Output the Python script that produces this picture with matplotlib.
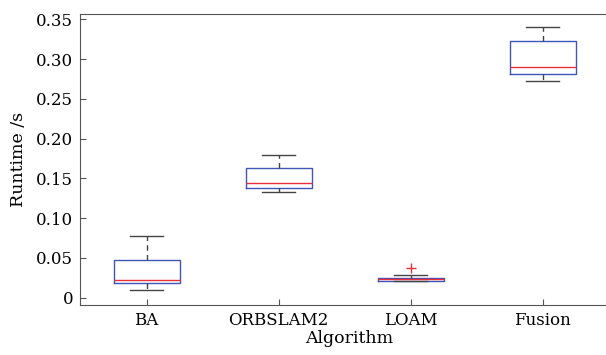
import matplotlib
matplotlib.use('Agg')
import matplotlib.pyplot as plt

plt.rcParams['font.family'] = ['DejaVu Serif']

algorithms = ['BA', 'ORBSLAM2', 'LOAM', 'Fusion']
whislo = [0.0097, 0.1332, 0.0205, 0.2722]
q1 = [0.0181, 0.1382, 0.0214, 0.2814]
med = [0.0219, 0.1441, 0.0235, 0.2902]
q3 = [0.0477, 0.1633, 0.0251, 0.3229]
whishi = [0.0771, 0.1789, 0.0281, 0.3405]
fliers = [[], [], [0.0369], []]

stats = []
for i, name in enumerate(algorithms):
    stats.append({'label': name, 'whislo': whislo[i], 'q1': q1[i], 'med': med[i],
                  'q3': q3[i], 'whishi': whishi[i], 'fliers': fliers[i]})

# axes runs a bit past the right edge of the figure, like the cropped original
W, H = 606, 355
left, right, bottom, top = 80, 615, 305, 14
fig = plt.figure(figsize=(W/100, H/100), dpi=100)
ax = fig.add_axes([left/W, 1-bottom/H, (right-left)/W, (bottom-top)/H])

ax.bxp(stats, widths=0.5, showfliers=True,
       boxprops=dict(color='#3f55b8', linewidth=1.0),
       medianprops=dict(color='#e8303a', linewidth=1.0),
       whiskerprops=dict(color='#444444', linewidth=1.0, linestyle=(0, (4, 3))),
       capprops=dict(color='#444444', linewidth=1.0),
       flierprops=dict(marker='+', markeredgecolor='#e8303a', markersize=7, linestyle='none'),
       capwidths=0.25)

ax.set_xlim(0.495, 0.495 + (right-left)/132)
ax.set_ylim(-0.0092, 0.3567)
ax.set_yticks([0, 0.05, 0.10, 0.15, 0.20, 0.25, 0.30, 0.35])
ax.set_yticklabels(['0', '0.05', '0.10', '0.15', '0.20', '0.25', '0.30', '0.35'])
ax.tick_params(direction='in', length=4, labelsize=12, color='#555555', pad=5)
ax.spines['right'].set_visible(False)
for s in ['left', 'top', 'bottom']:
    ax.spines[s].set_color('#555555')

ax.set_ylabel('Runtime /s', fontsize=12.5)
ax.set_xlabel('Algorithm', fontsize=12.5, labelpad=0)
ax.xaxis.set_label_coords((349-left)/(right-left), -0.085)
ax.yaxis.set_label_coords((27-left)/(right-left), 0.5)

fig.savefig('out.png', dpi=100)
